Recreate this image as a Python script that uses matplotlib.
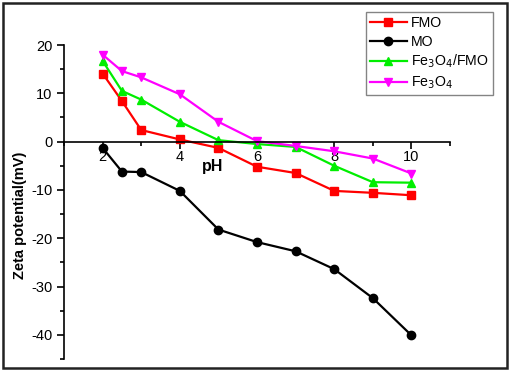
import matplotlib
matplotlib.use("Agg")
import matplotlib.pyplot as plt
from matplotlib.patches import Rectangle

plt.rcParams['font.family'] = ['Liberation Sans', 'DejaVu Sans']
plt.rcParams['axes.unicode_minus'] = False

ph = [2, 2.5, 3, 4, 5, 6, 7, 8, 9, 10]
fmo = [14.1, 8.4, 2.4, 0.45, -1.3, -5.2, -6.5, -10.2, -10.6, -11.1]
mo = [-1.3, -6.2, -6.3, -10.2, -18.2, -20.8, -22.7, -26.4, -32.4, -40.1]
fe3o4_fmo = [16.7, 10.5, 8.7, 4.1, 0.3, -0.5, -1.1, -5.0, -8.4, -8.5]
fe3o4 = [18.0, 14.6, 13.3, 9.8, 4.1, 0.1, -0.9, -2.0, -3.5, -6.6]

labels = ['FMO', 'MO', r'Fe$_3$O$_4$/FMO', r'Fe$_3$O$_4$']
colors = ['#ff0000', '#000000', '#00ee00', '#ff00ff']
markers = ['s', 'o', '^', 'v']
series = [fmo, mo, fe3o4_fmo, fe3o4]

fig = plt.figure(figsize=(5.10, 3.71), dpi=100)
ax = fig.add_axes([0.1255, 0.0323, 0.757, 0.8464])

for vals, lab, c, m in zip(series, labels, colors, markers):
    ax.plot(ph, vals, color=c, marker=m, markersize=6, linewidth=1.6, label=lab)

ax.set_xlim(1, 11)
ax.set_ylim(-45, 20)
ax.spines['top'].set_visible(False)
ax.spines['right'].set_visible(False)
ax.spines['bottom'].set_position(('data', 0))
ax.spines['left'].set_linewidth(1.2)
ax.spines['bottom'].set_linewidth(1.2)

ax.set_xticks([2, 4, 6, 8, 10])
ax.set_xticks([1, 3, 5, 7, 9, 11], minor=True)
ax.set_yticks([20, 10, 0, -10, -20, -30, -40])
ax.set_yticks([15, 5, -5, -15, -25, -35, -45], minor=True)
ax.tick_params(axis='both', which='major', direction='out', length=5, width=1.2, labelsize=10.5)
ax.tick_params(axis='both', which='minor', direction='out', length=3, width=1.2)
ax.tick_params(axis='x', which='major', pad=1)

ax.text(4.85, -5.1, 'pH', fontsize=11.5, fontweight='bold', ha='center', va='center')
fig.text(0.04, 0.42, 'Zeta potential(mV)', rotation=90, fontsize=10.5,
         fontweight='bold', ha='center', va='center')

leg = ax.legend(loc='upper right', bbox_to_anchor=(500 / 510, 1 - 5 / 371),
                bbox_transform=fig.transFigure, fontsize=10.2,
                handlelength=2.6, frameon=True, fancybox=False, edgecolor='#666666',
                borderpad=0.3, labelspacing=0.3, handletextpad=0.3)
leg.get_frame().set_linewidth(1.0)

fig.patches.append(Rectangle((0.006, 0.008), 0.988, 0.984, transform=fig.transFigure,
                             fill=False, edgecolor='#222222', linewidth=1.8))

fig.savefig('out.png', dpi=100)
